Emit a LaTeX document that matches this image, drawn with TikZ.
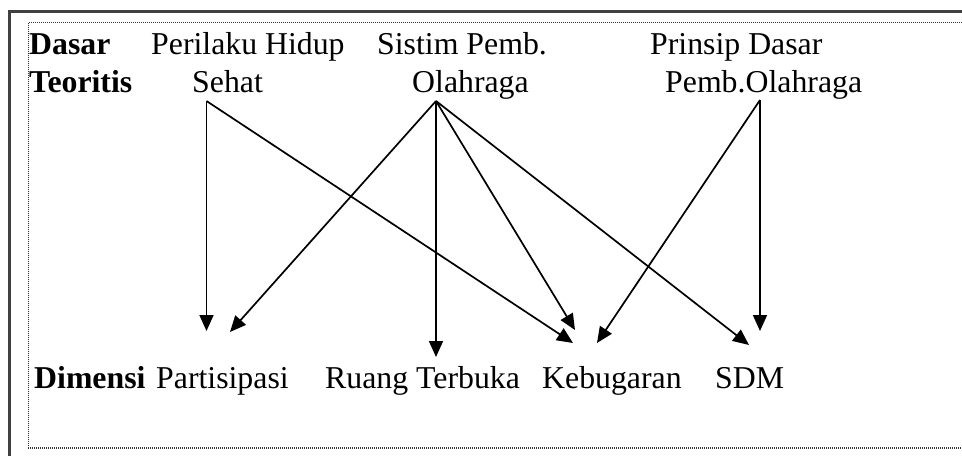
\documentclass[tikz,border=0pt]{standalone}
\usepackage{fontspec}
\setmainfont{Liberation Serif}
\usetikzlibrary{arrows.meta}
\begin{document}
\begin{tikzpicture}[x=1pt,y=-1pt,
  lbl/.style={anchor=base west, inner sep=0pt, font=\fontsize{31.8}{38}\selectfont},
  head/.style={lbl, font=\fontsize{31.8}{38}\selectfont\bfseries},
  link/.style={line width=1.7pt, -{Triangle[length=16pt,width=14pt]}},
  frameline/.style={draw=black!75, line width=2.5pt},
  dots/.style={draw=black!80, line width=1pt, dash pattern=on 1pt off 1pt}]
\useasboundingbox (0,0) rectangle (962,456);

% outer frame and dotted inner border
\draw[frameline] (962,11.5) -- (9.5,11.5) -- (9.5,456);
\draw[dots] (962,22.5) -- (28,22.5) -- (28,448);
\draw[dots, line width=2pt] (28,448) -- (962,448);

% row labels
\node[head] (dasar)    at (29,54)  {Dasar};
\node[head] (teoritis) at (29,92)  {Teoritis};
\node[head] (dimensi)  at (34,388) {Dimensi};

% theoretical bases
\node[lbl] (perilaku) at (151,54) {Perilaku Hidup};
\node[lbl] (sehat)    at (192,92) {Sehat};
\node[lbl] (sistim)   at (377,54) {Sistim Pemb.};
\node[lbl] (olahA)    at (412,92) {Olahraga};
\node[lbl] (prinsip)  at (650,54) {Prinsip Dasar};
\node[lbl] (olahB)    at (665,92) {Pemb.Olahraga};

% dimensions
\node[lbl] (partisipasi) at (156,388) {Partisipasi};
\node[lbl] (ruang)       at (325,388) {Ruang Terbuka};
\node[lbl] (kebugaran)   at (542,388) {Kebugaran};
\node[lbl] (sdm)         at (715,388) {SDM};

% connector ends
\coordinate (sehat-out) at (206.5,101);
\coordinate (olah-out)  at (436,101);
\coordinate (prin-out)  at (760,100);
\coordinate (part-in1)  at (206.5,331);
\coordinate (part-in2)  at (230,332);
\coordinate (ruang-in)  at (436,357);
\coordinate (keb-in1)   at (575,330);
\coordinate (keb-in2)   at (573,343);
\coordinate (keb-in3)   at (597,343);
\coordinate (sdm-in1)   at (749,345);
\coordinate (sdm-in2)   at (760,331);

% links
\draw[link] (sehat-out) -- (part-in1);
\draw[link] (sehat-out) -- (keb-in2);
\draw[link] (olah-out) -- (part-in2);
\draw[link] (olah-out) -- (ruang-in);
\draw[link] (olah-out) -- (keb-in1);
\draw[link] (olah-out) -- (sdm-in1);
\draw[link] (prin-out) -- (sdm-in2);
\draw[link] (prin-out) -- (keb-in3);
\end{tikzpicture}
\end{document}
